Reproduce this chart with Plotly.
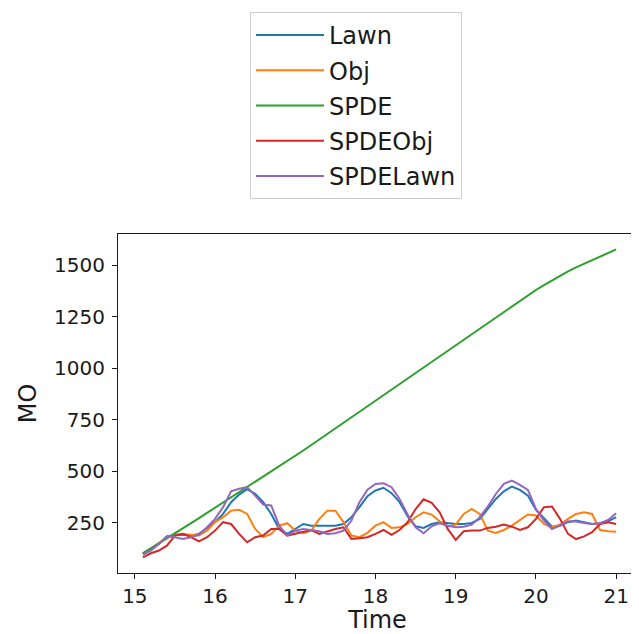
import plotly.graph_objects as go

time = [round(15.0 + 0.1 * i, 1) for i in range(1, 61)]

lawn = [100, 122, 146, 183, 190, 191, 187, 195, 224, 252,
        292, 349, 386, 412, 390, 349, 292, 219, 195, 219,
        243, 235, 235, 235, 235, 243, 276, 325, 378, 406,
        419, 393, 349, 281, 232, 224, 243, 252, 247, 243,
        243, 248, 268, 316, 365, 402, 425, 409, 381, 312,
        273, 230, 235, 252, 260, 252, 243, 247, 256, 276]

obj = [94, 122, 154, 179, 191, 195, 191, 187, 211, 252,
       276, 308, 312, 292, 219, 179, 195, 235, 247, 211,
       198, 211, 268, 308, 308, 252, 187, 179, 200, 235,
       252, 224, 227, 243, 276, 300, 289, 256, 230, 240,
       292, 316, 292, 211, 200, 214, 235, 264, 289, 284,
       243, 227, 240, 268, 292, 300, 292, 214, 208, 206]

spde = [100, 124, 148, 172, 197, 222, 247, 272, 297, 322,
        347, 372, 397, 422, 447, 472, 497, 522, 548, 574,
        600, 627, 654, 681, 708, 735, 762, 789, 816, 843,
        870, 897, 924, 951, 978, 1005, 1032, 1059, 1086, 1113,
        1140, 1167, 1194, 1221, 1248, 1275, 1302, 1329, 1355, 1380,
        1404, 1427, 1449, 1470, 1490, 1508, 1526, 1543, 1560, 1577]

spdeobj = [81, 101, 114, 138, 187, 195, 179, 159, 179, 211,
           252, 243, 195, 154, 179, 187, 219, 219, 187, 195,
           203, 214, 195, 208, 219, 227, 170, 174, 179, 195,
           214, 190, 214, 252, 316, 363, 346, 300, 219, 166,
           208, 211, 211, 224, 230, 240, 230, 214, 227, 268,
           325, 328, 268, 195, 170, 183, 203, 243, 252, 243]

spdelawn = [94, 114, 146, 183, 179, 170, 179, 191, 227, 268,
            325, 402, 414, 422, 381, 338, 333, 235, 187, 211,
            219, 214, 208, 195, 198, 211, 260, 349, 410, 438,
            441, 422, 365, 289, 227, 198, 232, 247, 235, 227,
            230, 240, 276, 328, 389, 438, 454, 433, 409, 316,
            260, 219, 235, 256, 255, 248, 243, 247, 263, 295]

series = [("Lawn", lawn, "#1f77b4"), ("Obj", obj, "#ff7f0e"),
          ("SPDE", spde, "#2ca02c"), ("SPDEObj", spdeobj, "#d62728"),
          ("SPDELawn", spdelawn, "#9467bd")]

x_ticks = [15, 16, 17, 18, 19, 20, 21]
y_ticks = [250, 500, 750, 1000, 1250, 1500]

fig = go.Figure()
for name, vals, color in series:
    fig.add_trace(go.Scatter(x=time, y=vals, mode="lines", name=name,
                             legendgroup=name,
                             line=dict(color=color, width=2)))

font = "DejaVu Sans"
ink = "#1a1a1a"
fig.update_layout(
    width=631, height=626,
    margin=dict(l=110, r=2, t=226, b=61),
    paper_bgcolor="white", plot_bgcolor="white",
    font=dict(family=font, color=ink),
    showlegend=True,
    legend=dict(x=(242 - 110) / 519, y=(565 - 4) / 339, xanchor="left", yanchor="top",
                font=dict(size=24, family=font, color=ink),
                bordercolor="#cccccc", borderwidth=1, bgcolor="white",
                itemwidth=68, tracegroupgap=1),
    xaxis=dict(range=[14.79, 21.26], tickvals=x_ticks,
               ticks="outside", ticklen=5, tickwidth=1, tickcolor=ink,
               showline=True, linecolor=ink, linewidth=1, mirror=True,
               showgrid=False, zeroline=False,
               tickfont=dict(size=20, family=font, color=ink),
               title=dict(text="Time", font=dict(size=24, family=font, color=ink),
                          standoff=6)),
    yaxis=dict(range=[5, 1652], tickvals=y_ticks,
               ticks="outside", ticklen=5, tickwidth=1, tickcolor=ink,
               showline=True, linecolor=ink, linewidth=1, mirror=True,
               showgrid=False, zeroline=False, ticklabelstandoff=3,
               tickfont=dict(size=20, family=font, color=ink),
               title=dict(text="MO", font=dict(size=24, family=font, color=ink),
                          standoff=10)),
)

fig.write_html("out.html")
